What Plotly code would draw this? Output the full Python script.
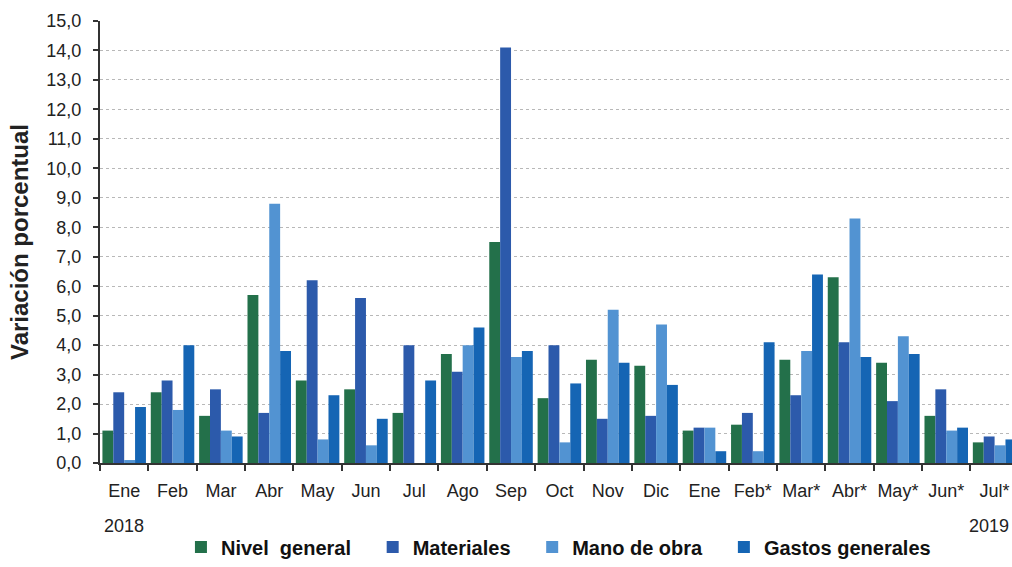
import plotly.graph_objects as go

months = ["Ene", "Feb", "Mar", "Abr", "May", "Jun", "Jul", "Ago", "Sep", "Oct", "Nov", "Dic",
          "Ene", "Feb*", "Mar*", "Abr*", "May*", "Jun*", "Jul*"]
years = ["2018", "2019"]
year_positions = [0, 18]

nivel_general = [1.1, 2.4, 1.6, 5.7, 2.8, 2.5, 1.7, 3.7, 7.5, 2.2, 3.5, 3.3, 1.1, 1.3, 3.5, 6.3, 3.4, 1.6, 0.7]
materiales = [2.4, 2.8, 2.5, 1.7, 6.2, 5.6, 4.0, 3.1, 14.1, 4.0, 1.5, 1.6, 1.2, 1.7, 2.3, 4.1, 2.1, 2.5, 0.9]
mano_de_obra = [0.1, 1.8, 1.1, 8.8, 0.8, 0.6, 0.0, 4.0, 3.6, 0.7, 5.2, 4.7, 1.2, 0.4, 3.8, 8.3, 4.3, 1.1, 0.6]
gastos_generales = [1.9, 4.0, 0.9, 3.8, 2.3, 1.5, 2.8, 4.6, 3.8, 2.7, 3.4, 2.65, 0.4, 4.1, 6.4, 3.6, 3.7, 1.2, 0.8]

series_names = ["Nivel  general", "Materiales", "Mano de obra", "Gastos generales"]
series_values = [nivel_general, materiales, mano_de_obra, gastos_generales]
series_colors = ["#23704a", "#2c5aab", "#5293d2", "#1565b4"]

x = list(range(len(months)))
pad = "\u00a0" * 3

fig = go.Figure()
for name, vals, color in zip(series_names, series_values, series_colors):
    fig.add_trace(go.Bar(x=x, y=vals, name=name + pad, marker=dict(color=color, line=dict(width=0)),
                         hovertext=months))

fig.add_annotation(x=year_positions[0], y=-0.142, xref="x", yref="paper", text=years[0], showarrow=False,
                   font=dict(size=18, color="#222"), xanchor="center", yanchor="middle")
fig.add_annotation(x=year_positions[1], y=-0.142, xref="x", yref="paper", text=years[1], showarrow=False,
                   font=dict(size=18, color="#222"), xanchor="right", yanchor="middle", xshift=16)

fig.update_layout(
    width=1012, height=567,
    barmode="group", bargap=0.1, bargroupgap=0.0,
    separators=",.",
    plot_bgcolor="white", paper_bgcolor="white",
    margin=dict(l=100, r=0, t=21, b=100),
    font=dict(family="Arial, Liberation Sans, sans-serif", size=16, color="#222"),
    legend=dict(orientation="h", x=0.512, xanchor="center", y=-0.19, yanchor="middle",
                font=dict(size=20, color="#111", weight="bold"), itemwidth=30, traceorder="normal"),
    xaxis=dict(
        range=[-0.5, 18.36], automargin=False,
        tickmode="array", tickvals=x, ticktext=months,
        ticks="", showline=True, linecolor="#333", linewidth=2,
        showgrid=False, zeroline=False, ticklabelstandoff=10, ticklabeloverflow="allow",
        tickfont=dict(size=18, color="#222"),
        minor=dict(tickmode="array", tickvals=[i - 0.5 for i in range(len(months) + 1)],
                   ticks="outside", ticklen=6, tickcolor="#333", tickwidth=2, showgrid=False),
    ),
    yaxis=dict(
        range=[0, 15], dtick=1, tickformat=".1f", automargin=False,
        ticks="outside", ticklen=5, tickcolor="#333", tickwidth=2,
        showline=True, linecolor="#333", linewidth=2,
        showgrid=True, gridcolor="#b8b8b8", griddash="dot", gridwidth=1,
        zeroline=False, ticklabelstandoff=8,
        tickfont=dict(size=18, color="#222"),
        title=dict(text="<b>Variación porcentual</b>", font=dict(size=24, color="#222"), standoff=11),
    ),
)

fig.write_html("out.html", config={"displayModeBar": False},
               post_script="document.body.style.margin='0';document.body.style.overflow='hidden';")
